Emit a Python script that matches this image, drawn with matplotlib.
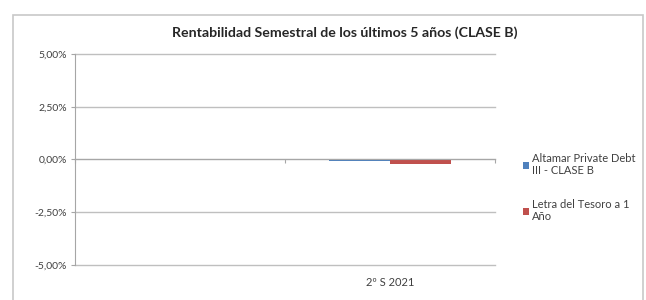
import numpy as np
import matplotlib.pyplot as plt
from matplotlib.patches import Rectangle
from matplotlib.ticker import FuncFormatter

categories = ["", "2º S 2021"]
altamar = [np.nan, -0.06]
letra = [np.nan, -0.22]
series_names = ["Altamar Private Debt\nIII - CLASE B", "Letra del Tesoro a 1\nAño"]
yticks = [-5, -2.5, 0, 2.5, 5]

plt.rcParams['font.family'] = ['Lato', 'DejaVu Sans']

fig = plt.figure(figsize=(6.46, 3.0), dpi=100)
ax = fig.add_axes([75/646, 1-265/300, 420/646, 211/300])

# chart area border
fig.patches.append(Rectangle((13/646, -0.05), 630/646, 1.0, transform=fig.transFigure,
                             fill=False, edgecolor='#c8c8c8', linewidth=1.2))

x = np.arange(len(categories))
w = 0.29
b1 = ax.bar(x - w/2, altamar, w, color='#4F81BD', label=series_names[0])
b2 = ax.bar(x + w/2, letra, w, color='#C0504D', label=series_names[1])

ax.set_xlim(-0.5, len(categories) - 0.5)
ax.set_ylim(-5, 5)
ax.set_yticks(yticks)
ax.yaxis.set_major_formatter(FuncFormatter(lambda v, p: ('%.2f%%' % v).replace('.', ',')))
ax.yaxis.grid(True, color='#bfbfbf', linewidth=1.0)
for gl in ax.get_ygridlines():
    gl.set_clip_on(False)
ax.set_axisbelow(True)

for s in ['top', 'right']:
    ax.spines[s].set_visible(False)
ax.spines['left'].set_color('#a6a6a6')
ax.spines['bottom'].set_position(('data', 0))
ax.spines['bottom'].set_color('#a6a6a6')
ax.tick_params(axis='y', colors='#a6a6a6', labelcolor='#404040', labelsize=7.5, length=3,
               width=0.8, pad=3)
ax.set_xticks(np.arange(len(categories) + 1) - 0.5)
ax.set_xticklabels([])
ax.tick_params(axis='x', colors='#a6a6a6', length=3, width=0.8)
for i, c in enumerate(categories):
    ax.text(i, -0.085, c, transform=ax.get_xaxis_transform(), ha='center', va='center',
            fontsize=8, color='#404040')

fig.text(345/646, 1-33/300, "Rentabilidad Semestral de los últimos 5 años (CLASE B)",
         ha='center', va='center', fontsize=10.2, fontweight='bold', color='#262626')

fig.legend(handles=[b1, b2], loc='upper left', bbox_to_anchor=(517/646, 1-147/300),
           frameon=False, fontsize=8, labelspacing=2.0, handlelength=0.6, handleheight=0.6,
           handletextpad=0.25, borderpad=0, labelcolor='#404040')

fig.savefig('out.png', dpi=100)
